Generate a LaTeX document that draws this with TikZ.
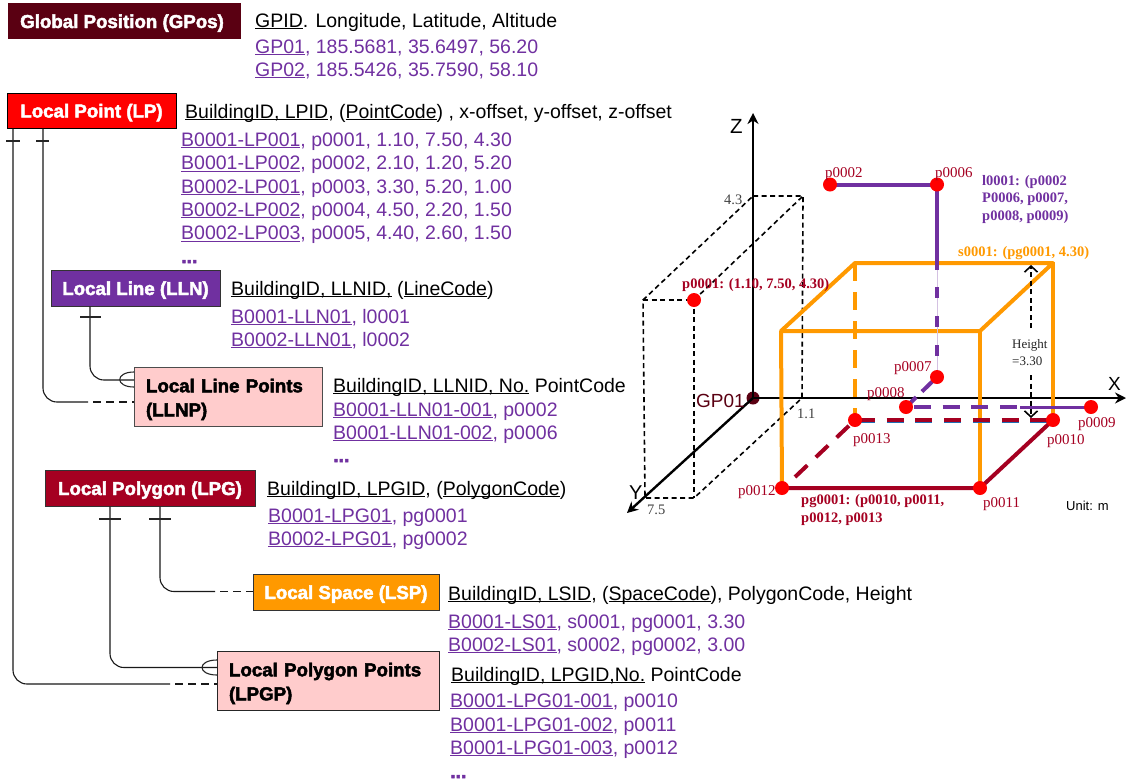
\documentclass[tikz,border=0pt]{standalone}
\usepackage{fontspec}
\setmainfont{Liberation Sans}
\newfontfamily\serifpart{Liberation Serif}
\newfontfamily\boxpart[BoldFeatures={FakeBold=2.5}]{Liberation Sans}
\usetikzlibrary{arrows.meta}
\definecolor{gposred}{HTML}{5A0012}
\definecolor{lgnred}{HTML}{A50021}
\definecolor{lnpurple}{HTML}{7030A0}
\definecolor{lsorange}{HTML}{FF9900}
\definecolor{ptpink}{HTML}{FFCCCC}
\definecolor{edgeblue}{HTML}{1F6FB5}
\newcommand{\ul}[1]{\underline{\smash{#1}}}
\tikzset{
  entbox/.style={draw=black!80, line width=1pt, minimum height=36pt, inner sep=0pt,
    text height=14pt, text depth=0pt,
    font=\boxpart\fontsize{18.7}{22}\selectfont\bfseries, text=white},
  ptbox/.style={draw=black!70, line width=1pt, fill=ptpink, inner sep=0pt, inner xsep=12pt,
    minimum height=59pt, align=left, text=black, text depth=22pt,
    font=\boxpart\fontsize{18.7}{24}\selectfont\bfseries},
  headtxt/.style={anchor=base west, inner sep=0pt, font=\fontsize{19.5}{22}\selectfont},
  rowtxt/.style={headtxt, text=lnpurple},
  moredots/.style={headtxt, text=lnpurple, font=\boxpart\fontsize{19.5}{22}\selectfont\bfseries},
  conn/.style={line width=1.1pt, black!90, rounded corners=14pt},
  connend/.style={line width=1.1pt, black!90, dash pattern=on 8pt off 5pt, dash phase=8pt},
  tick/.style={line width=1.1pt, black!85},
  ptdot/.style={circle, fill=red, minimum size=14pt, inner sep=0pt},
  ptlbl/.style={anchor=base west, inner sep=0pt, text=lgnred, font=\serifpart\fontsize{15}{17}\selectfont},
  geolbl/.style={anchor=base west, inner sep=0pt, align=left, font=\serifpart\fontsize{14.5}{17.5}\selectfont\bfseries},
  numlbl/.style={anchor=base west, inner sep=0pt, text=black!75, font=\serifpart\fontsize{14.5}{16}\selectfont},
  axis/.style={line width=2.4pt, -{Stealth[length=11pt,width=11pt]}},
  axlbl/.style={anchor=base west, inner sep=0pt},
  guide/.style={line width=1.6pt, dash pattern=on 5pt off 3.5pt},
  orangeln/.style={line width=4pt, lsorange, line join=round},
  wideline/.style={line width=4pt, dash pattern=on 17pt off 11.7pt},
}
\begin{document}
\begin{tikzpicture}[x=1pt, y=-1pt, >=Stealth]
  \useasboundingbox (0,0) rectangle (1126,780);
  % entity boxes
  \node[entbox, draw=none, fill=gposred, minimum width=233pt] (gpos) at (124.5,21) {\hspace{-5pt}Global Position (GPos)};
  \node[entbox, draw=black, fill=red, minimum width=169pt, minimum height=35pt] (lp) at (91.5,110.5) {Local Point (LP)};
  \node[entbox, fill=lnpurple, minimum width=169pt] (lln) at (135.5,288) {Local Line (LLN)};
  \node[ptbox, minimum width=188.5pt, text width=164.5pt] (llnp) at (228.25,396.5) {Local Line Points\\(LLNP)};
  \node[entbox, fill=lgnred, minimum width=210pt] (lpg) at (150,488) {Local Polygon (LPG)};
  \node[entbox, fill=lsorange, minimum width=186pt] (lsp) at (346,592) {Local Space (LSP)};
  \node[ptbox, draw=black!85, minimum width=222pt, text width=198pt] (lpgp) at (328,680.5) {Local Polygon Points\\(LPGP)};
  % global position table
  \node[headtxt] (gposh) at (255,27) {\ul{GPID}. Longitude, Latitude, Altitude};
  \node[rowtxt] (gpos1) at (255,53) {\ul{GP01}, 185.5681, 35.6497, 56.20};
  \node[rowtxt] (gpos2) at (255,76) {\ul{GP02}, 185.5426, 35.7590, 58.10};
  % local point table
  \node[headtxt] (lph) at (185,118) {\ul{BuildingID, LPID}, (\ul{PointCode}) , x-offset, y-offset, z-offset};
  \foreach \y/\t [count=\i] in {146/{\ul{B0001-LP001}, p0001, 1.10, 7.50, 4.30},
      169.5/{\ul{B0001-LP002}, p0002, 2.10, 1.20, 5.20},
      193/{\ul{B0002-LP001}, p0003, 3.30, 5.20, 1.00},
      216/{\ul{B0002-LP002}, p0004, 4.50, 2.20, 1.50},
      239.5/{\ul{B0002-LP003}, p0005, 4.40, 2.60, 1.50}}
    \node[rowtxt] (lp\i) at (181,\y) {\t};
  \node[moredots] (lpm) at (181,263) {...};
  % local line table
  \node[headtxt] (llnh) at (231,295) {\ul{BuildingID, LLNID,} (\ul{LineCode})};
  \node[rowtxt] (lln1) at (231,323) {\ul{B0001-LLN01}, l0001};
  \node[rowtxt] (lln2) at (231,346) {\ul{B0002-LLN01}, l0002};
  \node[headtxt] (llnph) at (333,392) {\ul{BuildingID, LLNID, No.} PointCode};
  \node[rowtxt] (llnp1) at (333,416) {\ul{B0001-LLN01-001}, p0002};
  \node[rowtxt] (llnp2) at (333,439) {\ul{B0001-LLN01-002}, p0006};
  \node[moredots] (llnpm) at (333,462) {...};
  % local polygon tables
  \node[headtxt] (lpgh) at (267,495) {\ul{BuildingID, LPGID}, (\ul{PolygonCode})};
  \node[rowtxt] (lpg1) at (268,522) {\ul{B0001-LPG01}, pg0001};
  \node[rowtxt] (lpg2) at (268,545) {\ul{B0002-LPG01}, pg0002};
  \node[headtxt] (lsph) at (448,600) {\ul{BuildingID, LSID}, (\ul{SpaceCode}), PolygonCode, Height};
  \node[rowtxt] (lsp1) at (448,628) {\ul{B0001-LS01}, s0001, pg0001, 3.30};
  \node[rowtxt] (lsp2) at (448,651) {\ul{B0002-LS01}, s0002, pg0002, 3.00};
  \node[headtxt] (lpgph) at (451,681) {\ul{BuildingID, LPGID,No.} PointCode};
  \node[rowtxt] (lpgp1) at (450,707) {\ul{B0001-LPG01-001}, p0010};
  \node[rowtxt] (lpgp2) at (450,731) {\ul{B0001-LPG01-002}, p0011};
  \node[rowtxt] (lpgp3) at (450,754) {\ul{B0001-LPG01-003}, p0012};
  \node[moredots] (lpgpm) at (450,778) {...};
  % connectors between the boxes
  \coordinate (lpa) at (13,0);
  \coordinate (lpb) at (43,0);
  \coordinate (llna) at (90,0);
  \coordinate (lpga) at (110,0);
  \coordinate (lpgb) at (160,0);
  \coordinate (lpgpin) at (217,684);
  \coordinate (llnpin) at (134,402);
  \coordinate (lpgpft) at (217,667.5);
  \coordinate (llnpft) at (134,380);
  \coordinate (lspin) at (253,591.5);
  \draw[conn] (lpa |- lp.south) -- (lpa |- lpgpin) -- (170,684);
  \draw[connend] (170,684) -- (lpgpin);
  \draw[conn] (lpb |- lp.south) -- (lpb |- llnpin) -- (88,402);
  \draw[connend] (88,402) -- (llnpin);
  \draw[conn] (llna |- lln.south) -- (llna |- llnpft) -- (llnpft);
  \draw[conn] (lpga |- lpg.south) -- (lpga |- lpgpft) -- (lpgpft);
  \draw[conn] (lpgb |- lpg.south) -- (lpgb |- lspin) -- (215,591.5);
  \draw[connend] (215,591.5) -- (lspin);
  % bars and crow feet
  \draw[tick] (6,141) -- (20,141);
  \draw[tick] (36,141) -- (49,141);
  \draw[tick] (80,317) -- (101,317);
  \draw[tick] (99,519) -- (121,519);
  \draw[tick] (149,519) -- (171,519);
  \draw[tick] (134,372) .. controls (115,372) and (115,387) .. (134,387);
  \draw[tick] (217,660) .. controls (197,660) and (197,675) .. (217,675);
  % dashed position box of p0001
  \draw[guide] (753,196) -- (803,196) -- (802,398) -- (694,498) -- (645,498) -- (643,300) -- (753,196);
  \draw[guide] (643,300) -- (694,300) -- (694,498);
  \draw[guide] (694,300) -- (803,196);
  % axes
  \node[circle, fill=gposred, minimum size=13pt, inner sep=0pt] (gp) at (753,398) {};
  \coordinate (zend) at (753,113);
  \coordinate (xend) at (1126,398);
  \coordinate (yend) at (627,513);
  \draw[axis] (gp.center) -- (zend);
  \draw[axis] (gp.center) -- (xend);
  \draw[axis] (gp.center) -- (yend);
  \node[axlbl, font=\fontsize{20.5}{22}\selectfont] (zlbl) at (730,133) {Z};
  \node[axlbl, font=\fontsize{19}{22}\selectfont] (xlbl) at (1108,390) {X};
  \node[axlbl, font=\fontsize{20}{22}\selectfont] (ylbl) at (629,499) {Y};
  \node[axlbl, text=gposred, font=\fontsize{19}{22}\selectfont] (gplbl) at (696,407) {GP01};
  \node[numlbl] (n43) at (724,204) {4.3};
  \node[numlbl] (n11) at (797,418) {1.1};
  \node[numlbl] (n75) at (647,514) {7.5};
  % points
  \foreach \n/\x/\y in {p1/694/300, p2/830/184.5, p6/937/184.5, p7/937/377, p8/906/407, p9/1091/407,
      p10/1053/420, p11/980/488, p12/782/488, p13/855/420}
    \coordinate (\n c) at (\x,\y);
  % space solid
  \draw[orangeln] (781,331) -- (855,263) -- (1053,263) -- (980,331) -- cycle;
  \draw[orangeln] (781,331) -- (p12c);
  \draw[orangeln] (980,331) -- (p11c);
  \draw[orangeln] (1053,263) -- (p10c);
  \draw[orangeln, dash pattern=on 18pt off 11pt] (855,263) -- (p13c);
  % height mark
  \node[anchor=base west, inner sep=0pt, align=left, text=black!85, font=\serifpart\fontsize{13}{17}\selectfont] (htlbl) at (1012,365) {Height\\=3.30};
  \coordinate (httop) at (1031,265);
  \coordinate (htbot) at (1031,418);
  \draw[guide, -{Straight Barb[length=6pt,width=13pt]}] (1031,328) -- (httop);
  \draw[guide, -{Straight Barb[length=6pt,width=13pt]}] (1031,375) -- (htbot);
  % polygon outline
  \draw[line width=4pt, lgnred] (p10c) -- (p11c) -- (p12c);
  \draw[lgnred, wideline] (795,477) -- (p13c);
  \draw[edgeblue, wideline, line width=1pt] (858,422.3) -- (1047,422.3);
  \draw[lgnred, wideline] (858,420) -- (p10c);
  % line outline
  \draw[line width=4pt, lnpurple] (p2c) -- (p6c) -- (937,270);
  \draw[line width=0.7pt, lnpurple!30] (937,270) -- (p7c);
  \draw[lnpurple, line width=4pt, dash pattern=on 11pt off 18pt] (937,287) -- (p7c);
  \draw[lnpurple, line width=4pt, dash pattern=on 21pt off 8pt] (p7c) -- (p8c);
  \draw[lnpurple, wideline] (914,407) -- (1020,407);
  \draw[line width=3pt, lnpurple] (1020,407) -- (p9c);
  \foreach \n/\x/\y in {p1/694/300, p2/830/184.5, p6/937/184.5, p7/937/377, p8/906/407, p9/1091/407,
      p10/1053/420, p11/980/488, p12/782/488, p13/855/420}
    \node[ptdot] (\n) at (\x,\y) {};
  % point labels
  \foreach \n/\x/\y in {0002/825/177, 0006/935/177, 0007/894/371, 0008/867/397, 0009/1078/427,
      0010/1047/444, 0011/983/507, 0012/738/495, 0013/853/443}
    \node[ptlbl] (lbl\n) at (\x,\y) {p\n};
  \node[geolbl, text=lgnred] (lblp1) at (682,288) {p0001: (1.10, 7.50, 4.30)};
  \node[geolbl, text=lnpurple] (lbll1) at (982,220) {l0001: (p0002\\P0006, p0007,\\p0008, p0009)};
  \node[geolbl, text=lsorange] (lbls1) at (958,256) {s0001: (pg0001, 4.30)};
  \node[geolbl, text=lgnred] (lblpg1) at (801,522) {pg0001: (p0010, p0011,\\p0012, p0013};
  \node[axlbl, font=\fontsize{13}{15}\selectfont] (unit) at (1066,510) {Unit: m};
\end{tikzpicture}
\end{document}
